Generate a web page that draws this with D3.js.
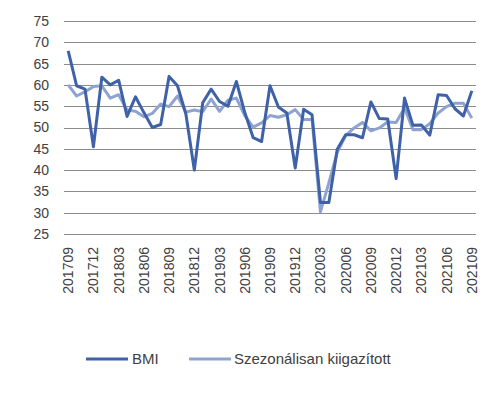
<!DOCTYPE html>
<html><head><meta charset="utf-8">
<script src="https://cdn.jsdelivr.net/npm/d3@7"></script>
<style>body{margin:0;background:#fff}svg{display:block}</style>
</head><body><svg id="c" width="499" height="393"></svg>
<script>
const months = [];
for (let y = 2017, m = 9; y < 2021 || (y === 2021 && m <= 9); ) {
  months.push(String(y) + String(m).padStart(2, "0"));
  m++; if (m > 12) { m = 1; y++; }
}
const bmi = [68.0,59.8,59.0,45.5,61.8,60.0,61.1,52.6,57.2,53.5,50.0,50.7,62.0,
  59.8,53.1,40.0,55.8,59.0,56.1,55.0,60.8,53.5,47.6,46.7,59.8,54.8,53.4,40.5,54.3,53.0,
  32.4,32.4,44.9,48.3,48.3,47.6,56.0,52.1,52.0,38.0,56.9,50.5,50.6,48.2,57.7,57.5,54.4,52.7,58.6];
const sa = [60.0,57.4,58.4,59.6,59.8,56.9,57.7,54.1,53.8,52.5,53.3,55.5,54.9,
  57.4,53.6,54.1,53.7,56.7,53.8,56.4,56.9,52.8,50.1,51.1,52.8,52.4,53.0,54.2,51.9,51.9,
  30.2,37.0,44.2,48.1,49.9,51.2,49.2,49.9,51.3,51.2,54.6,49.5,49.5,50.9,53.4,54.9,55.7,55.7,52.2];
const yTicks = [25,30,35,40,45,50,55,60,65,70,75];
const xTickLabels = months.filter((d, i) => i % 3 === 0);
const seriesNames = ["BMI", "Szezonálisan kiigazított"];
const colors = ["#3E61A8", "#8FA3D2"];

const svg = d3.select("#c");
const font = "'Liberation Sans', Arial, sans-serif";
const x = d3.scalePoint().domain(months).range([64, 476]).padding(0.5);
const y = d3.scaleLinear().domain([25, 75]).range([234, 21]);

svg.append("g").selectAll("line").data(yTicks).join("line")
  .attr("x1", 64).attr("x2", 476)
  .attr("y1", d => Math.round(y(d)) + 0.5).attr("y2", d => Math.round(y(d)) + 0.5)
  .attr("stroke", "#8c8c8c").attr("stroke-width", 1);

svg.append("g").selectAll("text").data(yTicks).join("text")
  .attr("x", 49).attr("y", d => y(d)).attr("dy", "0.35em")
  .attr("text-anchor", "end").attr("font-family", font).attr("font-size", 14)
  .attr("fill", "#404040").text(d => d);

svg.append("g").selectAll("text").data(xTickLabels).join("text")
  .attr("transform", d => `translate(${x(d) + 5},247) rotate(-90)`)
  .attr("text-anchor", "end").attr("font-family", font).attr("font-size", 14)
  .attr("fill", "#404040").text(d => d);

const line = d3.line().x((d, i) => x(months[i])).y(d => y(d));
[sa, bmi].forEach((s, k) => {
  svg.append("path").datum(s).attr("d", line).attr("fill", "none")
    .attr("stroke", k === 0 ? colors[1] : colors[0]).attr("stroke-width", 3)
    .attr("stroke-linejoin", "round");
});

const leg = [{x: 86, tx: 132}, {x: 189, tx: 234}];
seriesNames.forEach((n, i) => {
  svg.append("line").attr("x1", leg[i].x).attr("x2", leg[i].x + 42)
    .attr("y1", 359).attr("y2", 359).attr("stroke", colors[i]).attr("stroke-width", 3);
  svg.append("text").attr("x", leg[i].tx).attr("y", 359).attr("dy", "0.35em")
    .attr("font-family", font).attr("font-size", 15).attr("fill", "#404040").text(n);
});
</script></body></html>
